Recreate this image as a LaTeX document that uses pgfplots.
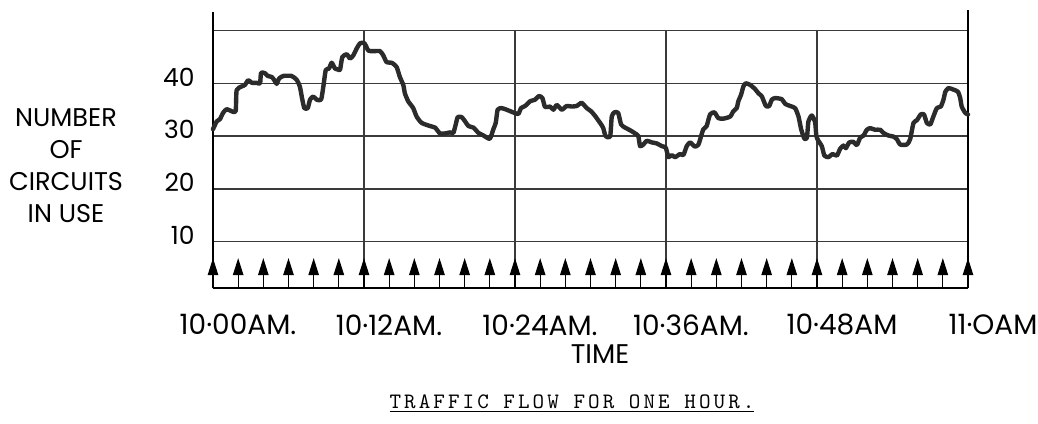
\documentclass[border=0pt]{standalone}
\usepackage{fontspec}
\setmainfont{Poppins}
\newfontfamily\typew{lmmono10-regular}[Extension=.otf, LetterSpace=14]
\usepackage{pgfplots}
\pgfplotsset{compat=1.18}
\usetikzlibrary{arrows.meta}
\definecolor{ink}{HTML}{2B2B2B}
\definecolor{gridc}{HTML}{3A3A3A}
\begin{document}
\begin{tikzpicture}
\path[use as bounding box] (-106.5pt,-67.5pt) rectangle (412.5pt,144pt);
\begin{axis}[
  scale only axis, width=377.5pt, height=139pt,
  xmin=0, xmax=60, ymin=1.2, ymax=53.9,
  clip=false,
  axis line style={draw=none},
  major tick style={draw=none},
  xtick={0,12,24,36,48,60},
  xticklabels={10·00AM., 10·12AM., 10·24AM., 10·36AM., 10·48AM, 11·OAM},
  xticklabel style={font=\fontsize{14}{16}\selectfont, anchor=north, inner sep=0pt, xshift=12.5pt, yshift=-13pt},
  ytick={10,20,30,40},
  yticklabels={10,20,30,40},
  yticklabel style={font=\fontsize{12.5}{14}\selectfont, anchor=east, inner sep=0pt, xshift=-9pt, yshift=3.2pt},
  every axis x label/.style={at={(axis cs:30.75,-11.3)}, anchor=center, font=\fontsize{13.5}{15}\selectfont},
  every axis y label/.style={at={(axis cs:-11.68,24.3)}, anchor=center, align=center, font=\fontsize{12.8}{16}\selectfont},
  xlabel={TIME},
  ylabel={NUMBER\\OF\\CIRCUITS\\IN USE},
]
% grid
\draw[gridc, line width=0.7pt] (axis cs:0,10) -- (axis cs:60,10);
\draw[gridc, line width=0.7pt] (axis cs:0,20) -- (axis cs:60,20);
\draw[gridc, line width=0.7pt] (axis cs:0,30) -- (axis cs:60,30);
\draw[gridc, line width=0.7pt] (axis cs:0,40) -- (axis cs:60,40);
\draw[gridc, line width=0.7pt] (axis cs:0,50) -- (axis cs:60,50);
\draw[gridc, line width=0.7pt] (axis cs:12,1.2) -- (axis cs:12,50);
\draw[gridc, line width=0.7pt] (axis cs:24,1.2) -- (axis cs:24,50);
\draw[gridc, line width=0.7pt] (axis cs:36,1.2) -- (axis cs:36,50);
\draw[gridc, line width=0.7pt] (axis cs:48,1.2) -- (axis cs:48,50);
% frame
\draw[black, line width=1.2pt] (axis cs:0,1.2) -- (axis cs:0,53.5);
\draw[black, line width=1.2pt] (axis cs:60,1.2) -- (axis cs:60,53.9);
\draw[black, line width=1pt] (axis cs:0,1.2) -- (axis cs:60,1.2);
% arrows
\addplot[black, mark=none, line width=0.6pt, quiver={u=0,v=5.67}, -{Triangle[length=8.5pt,width=5.2pt]}] table {
x y
0 1.2
2 1.2
4 1.2
6 1.2
8 1.2
10 1.2
12 1.2
14 1.2
16 1.2
18 1.2
20 1.2
22 1.2
24 1.2
26 1.2
28 1.2
30 1.2
32 1.2
34 1.2
36 1.2
38 1.2
40 1.2
42 1.2
44 1.2
46 1.2
48 1.2
50 1.2
52 1.2
54 1.2
56 1.2
58 1.2
60 1.2
};
% traffic curve
\addplot[ink, mark=none, line width=2.2pt, line join=round, line cap=round, smooth, tension=0.35] coordinates {
(0,31.3) (0.3,32.8) (0.55,33.2) (0.8,34.4) (1.09,35.1) (1.49,34.7) (1.8,34.7) (1.88,38.7)
(2.28,39.4) (2.54,39.7) (2.8,40.6) (3.08,40.1) (3.47,40.1) (3.74,40.0) (3.82,42.0) (4.13,41.9)
(4.35,41.4) (4.67,41.2) (4.87,40.6) (5.06,39.9) (5.25,40.9) (5.59,41.4) (6.24,41.4) (6.64,40.7)
(6.9,39.4) (7.1,36.9) (7.26,35.3) (7.53,35.3) (7.71,36.9) (7.97,37.5) (8.24,36.9) (8.59,36.9)
(8.77,39.4) (8.96,42.5) (9.22,42.8) (9.43,43.9) (9.7,42.8) (9.96,42.6) (10.1,42.6) (10.28,45.0)
(10.63,45.5) (10.89,44.7) (11.15,45.3) (11.42,46.6) (11.69,47.6) (12.03,47.6) (12.35,46.2) (12.74,46.1)
(13.27,46.1) (13.53,45.3) (13.8,44.0) (14.2,43.9) (14.59,43.1) (14.85,41.2) (15.12,39.7) (15.25,38.1)
(15.51,36.6) (15.91,35.3) (16.18,33.7) (16.58,32.5) (17.25,31.9) (17.65,31.6) (18.04,30.5) (18.44,30.5)
(18.84,30.7) (19.1,30.6) (19.29,32.2) (19.45,33.6) (19.76,33.6) (20.03,32.8) (20.3,31.9) (20.7,31.6)
(21.1,30.6) (21.5,30.1) (22.0,29.5) (22.28,31.3) (22.47,32.5) (22.62,35.0) (22.93,35.3) (23.33,35.0)
(23.95,34.4) (24.27,34.2) (24.48,35.3) (24.8,35.7) (25.2,36.6) (25.6,36.9) (25.9,37.6) (26.18,37.2)
(26.39,35.5) (26.79,35.6) (27.05,35.0) (27.32,35.9) (27.72,35.0) (28.1,35.7) (28.5,35.6) (28.9,35.7)
(29.3,36.3) (29.7,35.3) (30.05,34.7) (30.37,33.8) (30.76,32.5) (31.0,31.6) (31.2,30.0) (31.56,29.9)
(31.69,33.7) (31.9,34.5) (32.2,34.4) (32.43,32.2) (32.75,31.6) (33.15,31.1) (33.55,30.5) (33.8,30.0)
(33.94,28.1) (34.2,28.4) (34.47,29.1) (34.87,28.8) (35.27,28.6) (35.66,28.1) (35.98,27.8) (36.19,26.0)
(36.46,26.4) (36.72,26.0) (37.12,26.6) (37.38,26.4) (37.65,28.1) (37.92,28.8) (38.3,28.0) (38.58,28.4)
(38.79,30.0) (38.97,31.3) (39.23,31.9) (39.5,34.1) (39.85,34.5) (40.16,33.4) (40.56,33.3) (41.1,33.7)
(41.35,34.7) (41.62,35.3) (41.75,36.6) (41.96,37.8) (42.15,39.4) (42.34,40.0) (42.69,39.7) (43.08,38.9)
(43.35,38.1) (43.62,37.5) (43.94,35.7) (44.2,35.7) (44.41,36.9) (44.67,37.2) (45.2,37.0) (45.47,36.1)
(45.87,35.7) (46.26,35.3) (46.53,33.7) (46.74,31.3) (47.0,29.5) (47.2,29.7) (47.32,32.8) (47.59,33.9)
(47.85,32.6) (47.95,30.0) (48.11,29.1) (48.38,28.1) (48.59,26.3) (48.91,26.0) (49.23,26.6) (49.58,26.3)
(49.84,27.6) (50.1,28.2) (50.29,27.7) (50.56,28.8) (50.9,28.9) (51.17,28.3) (51.43,29.7) (51.7,30.1)
(51.96,31.2) (52.23,31.5) (52.62,31.2) (53.02,31.2) (53.28,30.6) (53.68,30.1) (54.08,29.9) (54.35,29.4)
(54.61,28.4) (55.14,28.4) (55.4,29.4) (55.67,32.5) (55.94,33.0) (56.24,34.1) (56.5,34.1) (56.73,32.5)
(57.0,32.2) (57.2,33.4) (57.52,35.3) (57.84,35.6) (58.05,36.9) (58.2,38.4) (58.45,39.1) (58.85,38.8)
(59.2,38.4) (59.38,37.2) (59.5,35.6) (59.78,34.4) (60,34.1)
};
% caption
\node[font=\typew\fontsize{11}{13}\selectfont] at (axis cs:28.53,-20.8)
  {\underline{TRAFFIC FLOW FOR ONE HOUR.}};
\end{axis}
\end{tikzpicture}
\end{document}
